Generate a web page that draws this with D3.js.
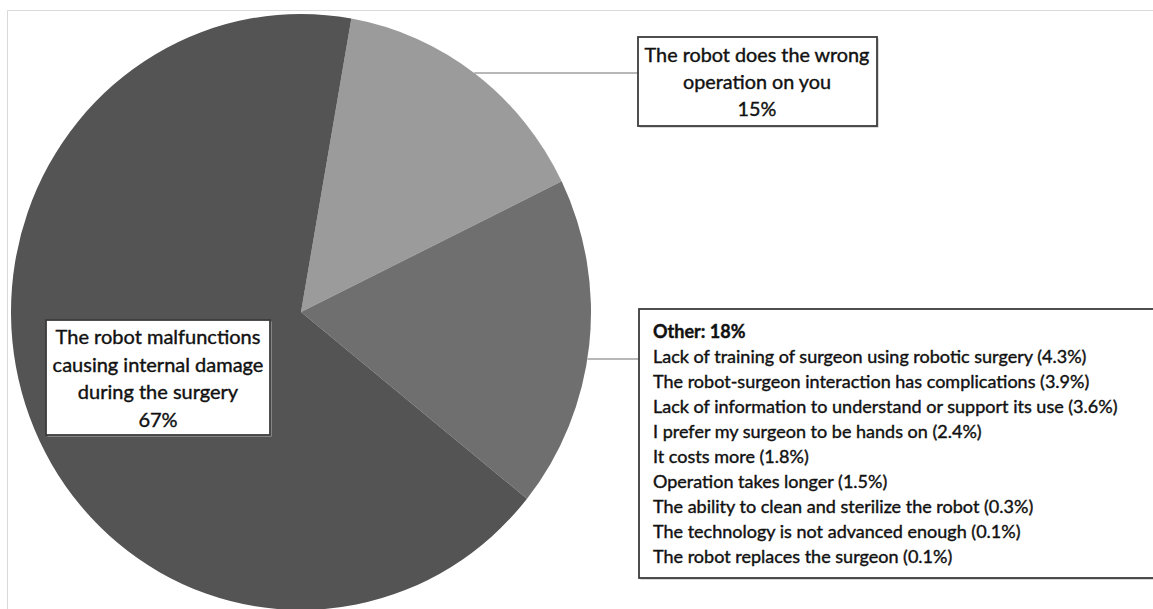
<html lang="en">
<head>
  <script src="https://d3js.org/d3.v7.min.js"></script>
  <style>
    body { margin: 0; background: white; }
    text { font-family: Lato, "Open Sans", sans-serif; fill: #111; stroke: #111; stroke-width: 0.4; }
  </style>
</head>
<body>
  <svg id="chart" width="1153" height="609"></svg>
  <script>
    // slices, clockwise from the top
    const sliceNames = ["The robot does the wrong operation on you", "Other", "The robot malfunctions causing internal damage during the surgery"];
    const sliceValues = [15, 18, 67];
    const sliceColors = ["#9b9b9b", "#6f6f6f", "#545454"];

    const otherItems = [
      "Lack of training of surgeon using robotic surgery",
      "The robot-surgeon interaction has complications",
      "Lack of information to understand or support its use",
      "I prefer my surgeon to be hands on",
      "It costs more",
      "Operation takes longer",
      "The ability to clean and sterilize the robot",
      "The technology is not advanced enough",
      "The robot replaces the surgeon"
    ];
    const otherValues = [4.3, 3.9, 3.6, 2.4, 1.8, 1.5, 0.3, 0.1, 0.1];

    const svg = d3.select("#chart");
    const cx = 301, cy = 312, rx = 290, ry = 298;

    // light frame
    svg.append("path")
      .attr("d", "M7.5,609 L7.5,10.5 L1153,10.5")
      .attr("fill", "none").attr("stroke", "#d9d9d9").attr("stroke-width", 1);

    const pie = d3.pie().sort(null)
      .startAngle(10 * Math.PI / 180)
      .endAngle(370 * Math.PI / 180);
    const arcs = pie(sliceValues);
    const arc = d3.arc().innerRadius(0).outerRadius(rx);

    svg.append("g")
      .attr("transform", "translate(" + cx + "," + cy + ") scale(1," + (ry / rx) + ")")
      .selectAll("path")
      .data(arcs)
      .enter()
      .append("path")
      .attr("d", arc)
      .attr("fill", (d, i) => sliceColors[i]);

    // x on the pie edge at a given y (right side)
    function edgeX(y) {
      const t = (cy - y) / ry;
      return cx + rx * Math.sqrt(Math.max(0, 1 - t * t));
    }

    function drawBox(x, y, w, h) {
      svg.append("rect").attr("x", x + 1.5).attr("y", y + 1.5).attr("width", w).attr("height", h)
        .attr("fill", "#b5b5b5");
      svg.append("rect").attr("x", x).attr("y", y).attr("width", w).attr("height", h)
        .attr("fill", "white").attr("stroke", "#3c3c3c").attr("stroke-width", 1.8);
    }

    function leader(y, x2) {
      svg.append("line")
        .attr("x1", edgeX(y)).attr("y1", y).attr("x2", x2).attr("y2", y)
        .attr("stroke", "#a0a0a0").attr("stroke-width", 1.5);
    }

    // fit a block of lines to a target width of its longest line
    function fitLines(sel, targetW) {
      let maxW = 0;
      sel.each(function () { maxW = Math.max(maxW, this.getComputedTextLength()); });
      const fs = parseFloat(sel.attr("font-size"));
      sel.attr("font-size", fs * targetW / maxW);
    }

    // box: wrong operation
    leader(73, 638);
    drawBox(638, 37, 239, 89);
    const b1 = svg.append("g").selectAll("text")
      .data(["The robot does the wrong", "operation on you", d3.format(".0f")(sliceValues[0]) + "%"])
      .enter().append("text")
      .attr("x", 757).attr("y", (d, i) => 62 + i * 27)
      .attr("text-anchor", "middle").attr("font-size", 18)
      .text(d => d);
    fitLines(b1, 225);

    // box: malfunction
    drawBox(46, 320, 224, 115);
    const b2 = svg.append("g").selectAll("text")
      .data(["The robot malfunctions", "causing internal damage", "during the surgery", sliceValues[2] + "%"])
      .enter().append("text")
      .attr("x", 158).attr("y", (d, i) => 344 + i * 27.5)
      .attr("text-anchor", "middle").attr("font-size", 18)
      .text(d => d);
    fitLines(b2, 211);

    // box: other
    leader(359, 639);
    drawBox(639, 309, 516, 269);
    const lines = ["Other: " + sliceValues[1] + "%"].concat(otherItems.map((s, i) => s + " (" + otherValues[i].toFixed(1) + "%)"));
    const b3 = svg.append("g").selectAll("text")
      .data(lines)
      .enter().append("text")
      .attr("x", 653).attr("y", (d, i) => 338 + i * 25)
      .attr("font-size", 16)
      .attr("font-weight", (d, i) => i === 0 ? "bold" : "normal")
      .text(d => d);
    fitLines(b3, 465);
  </script>
</body>
</html>
